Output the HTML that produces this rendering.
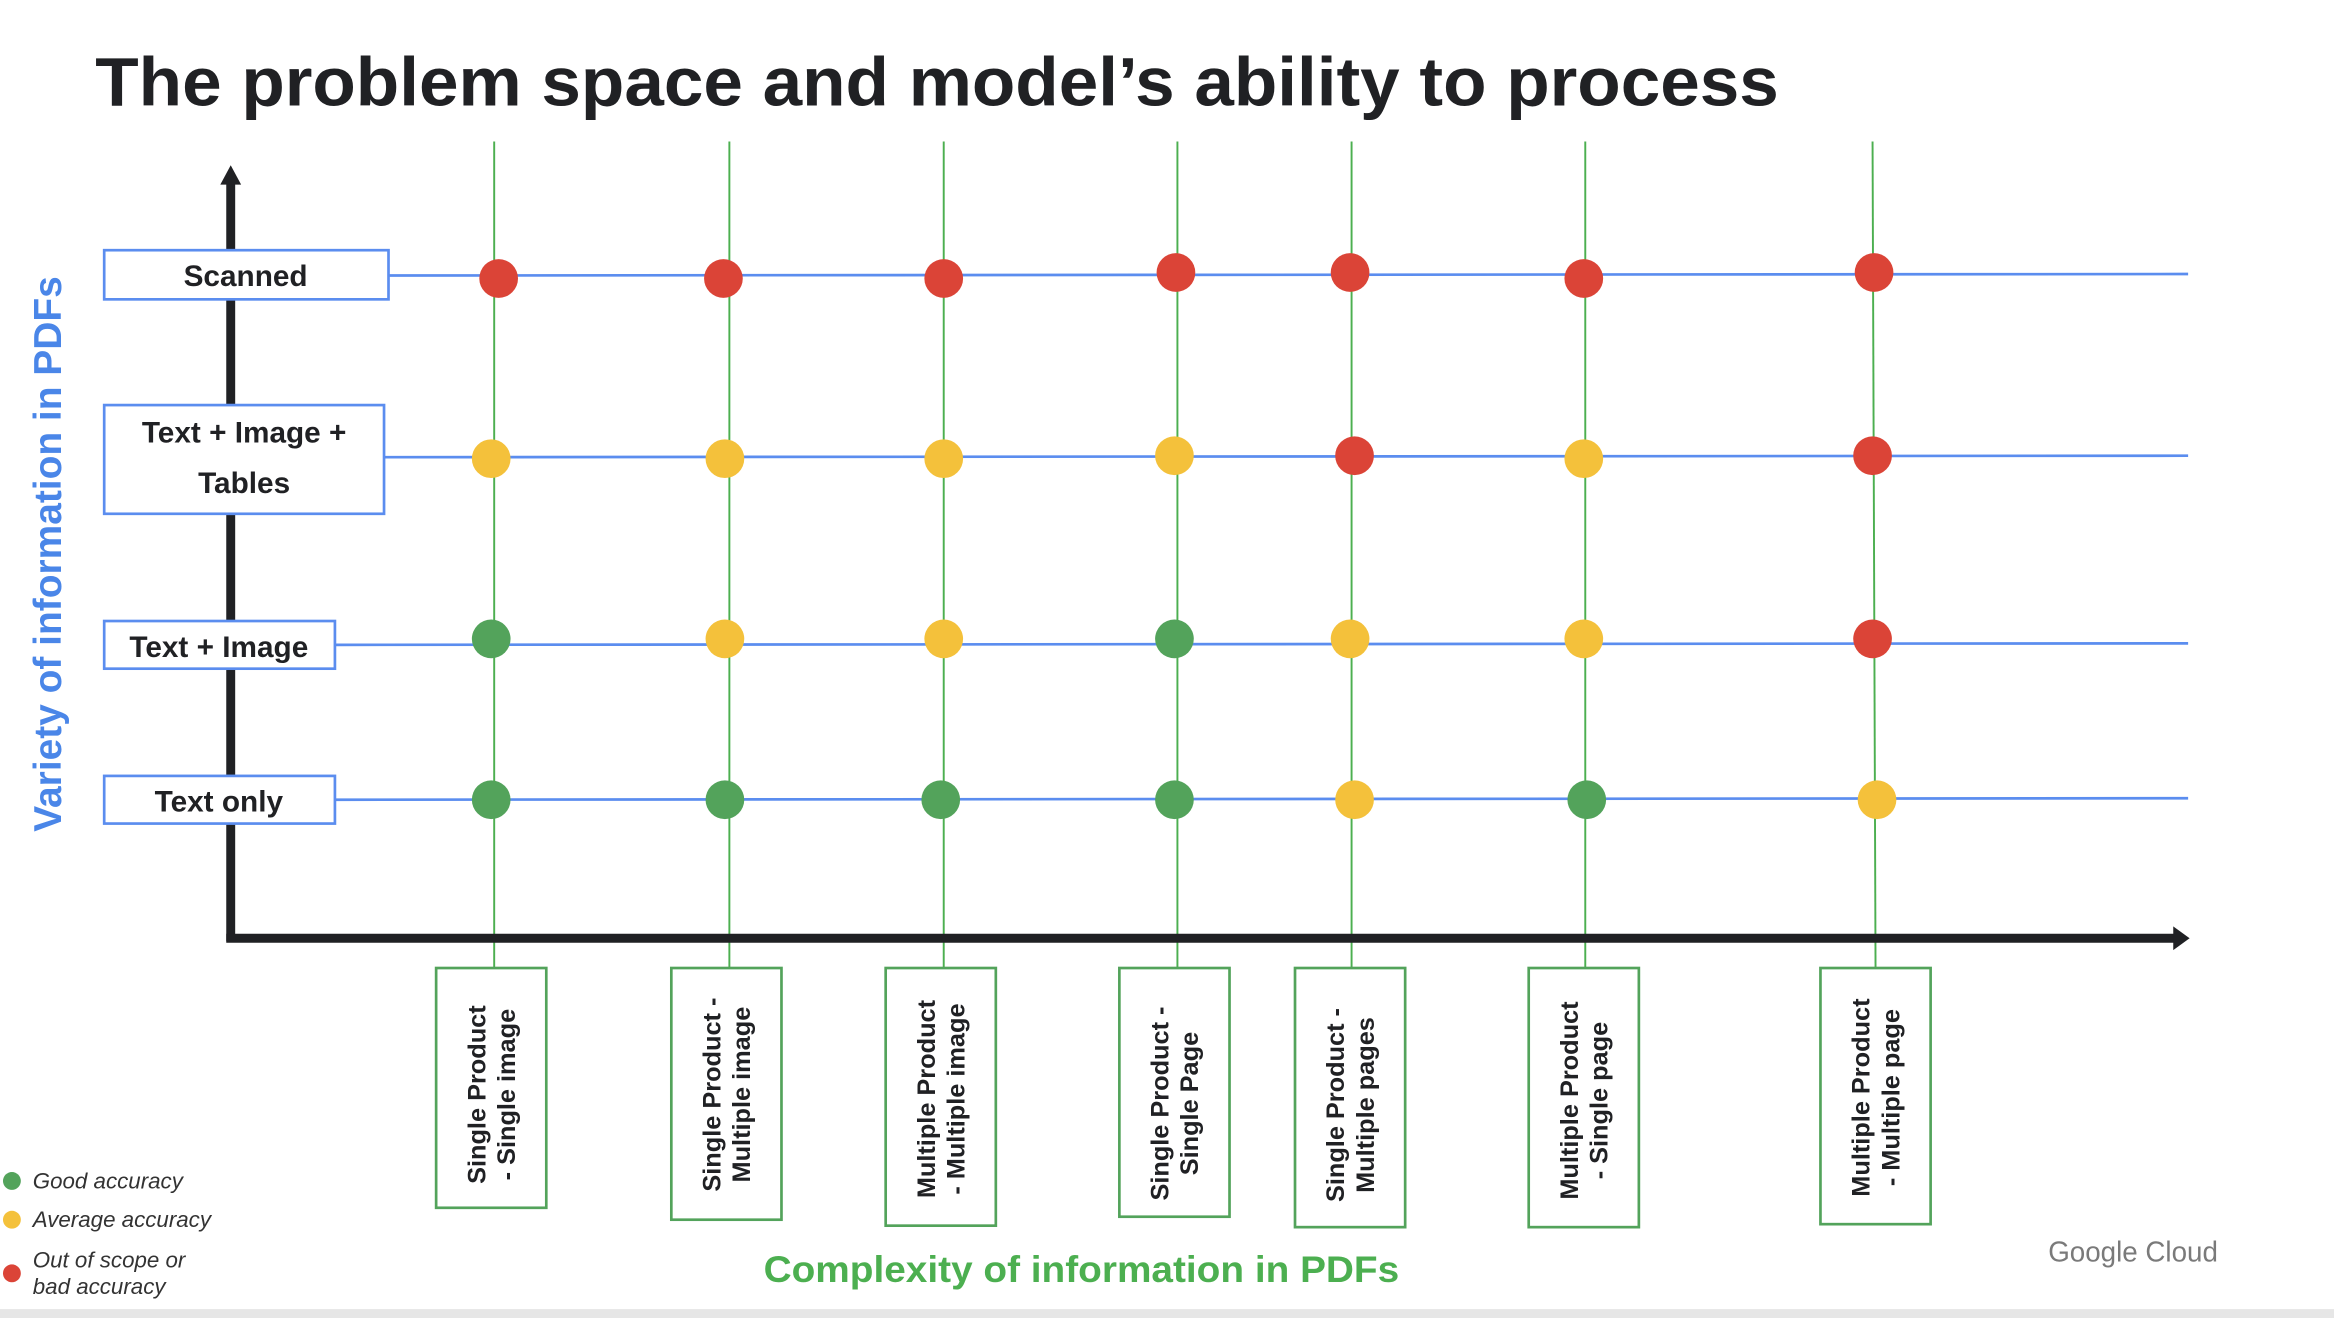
<!DOCTYPE html>
<html><head><meta charset="utf-8"><style>
html,body{margin:0;padding:0;background:#fff;}
svg{display:block;}
text{font-family:"Liberation Sans",sans-serif;}
</style></head><body>
<svg width="2334" height="1318" viewBox="0 0 1568 885" preserveAspectRatio="none" xmlns="http://www.w3.org/2000/svg">
<rect width="1568" height="885" fill="#fff"/>
<rect x="0" y="879" width="1568" height="6" fill="#e6e6e6"/>
<text x="64" y="71" font-size="46" font-weight="bold" fill="#202124" textLength="1131" lengthAdjust="spacingAndGlyphs">The problem space and model’s ability to process</text>

<!-- green verticals -->
<g stroke="#4caf50" stroke-width="1.3">
<line x1="332" y1="95" x2="332" y2="650"/>
<line x1="490" y1="95" x2="490" y2="650"/>
<line x1="634" y1="95" x2="634" y2="650"/>
<line x1="791" y1="95" x2="791" y2="650"/>
<line x1="908" y1="95" x2="908" y2="650"/>
<line x1="1065" y1="95" x2="1065" y2="650"/>
<line x1="1258" y1="95" x2="1260" y2="650"/>
</g>
<!-- blue horizontals -->
<g stroke="#5b8def" stroke-width="1.8">
<line x1="261" y1="185" x2="1470" y2="184"/>
<line x1="258" y1="307" x2="1470" y2="306"/>
<line x1="225" y1="433" x2="1470" y2="432"/>
<line x1="225" y1="537" x2="1470" y2="536"/>
</g>
<!-- axes -->
<line x1="155" y1="122" x2="155" y2="632" stroke="#202124" stroke-width="6"/>
<polygon points="148,124 155,111 162,124" fill="#202124"/>
<line x1="152" y1="630" x2="1462" y2="630" stroke="#202124" stroke-width="6"/>
<polygon points="1460,622 1471,630 1460,638" fill="#202124"/>

<!-- row boxes -->
<g fill="#fff" stroke="#5b8def" stroke-width="1.8">
<rect x="70" y="168" width="191" height="33"/>
<rect x="70" y="272" width="188" height="73"/>
<rect x="70" y="417" width="155" height="32"/>
<rect x="70" y="521" width="155" height="32"/>
</g>
<g font-size="20" font-weight="bold" fill="#202124" text-anchor="middle">
<text x="165" y="192">Scanned</text>
<text x="164" y="297">Text + Image +</text>
<text x="164" y="331">Tables</text>
<text x="147" y="441">Text + Image</text>
<text x="147" y="545">Text only</text>
</g>

<!-- dots -->
<g>
<circle cx="335" cy="187" r="13" fill="#db4437"/>
<circle cx="486" cy="187" r="13" fill="#db4437"/>
<circle cx="634" cy="187" r="13" fill="#db4437"/>
<circle cx="790" cy="183" r="13" fill="#db4437"/>
<circle cx="907" cy="183" r="13" fill="#db4437"/>
<circle cx="1064" cy="187" r="13" fill="#db4437"/>
<circle cx="1259" cy="183" r="13" fill="#db4437"/>

<circle cx="330" cy="308" r="13" fill="#f4c13b"/>
<circle cx="487" cy="308" r="13" fill="#f4c13b"/>
<circle cx="634" cy="308" r="13" fill="#f4c13b"/>
<circle cx="789" cy="306" r="13" fill="#f4c13b"/>
<circle cx="910" cy="306" r="13" fill="#db4437"/>
<circle cx="1064" cy="308" r="13" fill="#f4c13b"/>
<circle cx="1258" cy="306" r="13" fill="#db4437"/>

<circle cx="330" cy="429" r="13" fill="#53a35b"/>
<circle cx="487" cy="429" r="13" fill="#f4c13b"/>
<circle cx="634" cy="429" r="13" fill="#f4c13b"/>
<circle cx="789" cy="429" r="13" fill="#53a35b"/>
<circle cx="907" cy="429" r="13" fill="#f4c13b"/>
<circle cx="1064" cy="429" r="13" fill="#f4c13b"/>
<circle cx="1258" cy="429" r="13" fill="#db4437"/>

<circle cx="330" cy="537" r="13" fill="#53a35b"/>
<circle cx="487" cy="537" r="13" fill="#53a35b"/>
<circle cx="632" cy="537" r="13" fill="#53a35b"/>
<circle cx="789" cy="537" r="13" fill="#53a35b"/>
<circle cx="910" cy="537" r="13" fill="#f4c13b"/>
<circle cx="1066" cy="537" r="13" fill="#53a35b"/>
<circle cx="1261" cy="537" r="13" fill="#f4c13b"/>
</g>

<!-- bottom boxes -->
<g fill="#fff" stroke="#53a35b" stroke-width="1.8">
<rect x="293" y="650" width="74" height="161"/>
<rect x="451" y="650" width="74" height="169"/>
<rect x="595" y="650" width="74" height="173"/>
<rect x="752" y="650" width="74" height="167"/>
<rect x="870" y="650" width="74" height="174"/>
<rect x="1027" y="650" width="74" height="174"/>
<rect x="1223" y="650" width="74" height="172"/>
</g>
<g font-size="17" font-weight="bold" fill="#202124" text-anchor="middle">
<g transform="translate(330,735) rotate(-90)"><text x="0" y="-4">Single Product</text><text x="0" y="16">- Single image</text></g>
<g transform="translate(488,735) rotate(-90)"><text x="0" y="-4">Single Product -</text><text x="0" y="16">Multiple image</text></g>
<g transform="translate(632,738) rotate(-90)"><text x="0" y="-4">Multiple Product</text><text x="0" y="16">- Multiple image</text></g>
<g transform="translate(789,741) rotate(-90)"><text x="0" y="-4">Single Product -</text><text x="0" y="16">Single Page</text></g>
<g transform="translate(907,742) rotate(-90)"><text x="0" y="-4">Single Product -</text><text x="0" y="16">Multiple pages</text></g>
<g transform="translate(1064,739) rotate(-90)"><text x="0" y="-4">Multiple Product</text><text x="0" y="16">- Single page</text></g>
<g transform="translate(1260,737) rotate(-90)"><text x="0" y="-4">Multiple Product</text><text x="0" y="16">- Multiple page</text></g>
</g>

<!-- axis labels -->
<text transform="translate(41,372) rotate(-90)" text-anchor="middle" font-size="26" font-weight="bold" fill="#4a86e8" textLength="373" lengthAdjust="spacingAndGlyphs">Variety of information in PDFs</text>
<text x="513" y="861" font-size="25" font-weight="bold" fill="#4caf50" textLength="427" lengthAdjust="spacingAndGlyphs">Complexity of information in PDFs</text>

<!-- legend -->
<circle cx="8" cy="793" r="6" fill="#53a35b"/>
<circle cx="8" cy="819" r="6" fill="#f4c13b"/>
<circle cx="8" cy="855" r="6" fill="#db4437"/>
<g font-size="15" font-style="italic" fill="#333">
<text x="22" y="798">Good accuracy</text>
<text x="22" y="824">Average accuracy</text>
<text x="22" y="851">Out of scope or</text>
<text x="22" y="869">bad  accuracy</text>
</g>
<text x="1376" y="847" font-size="19" fill="#7a7a7a" textLength="114" lengthAdjust="spacingAndGlyphs">Google Cloud</text>
</svg>
</body></html>
